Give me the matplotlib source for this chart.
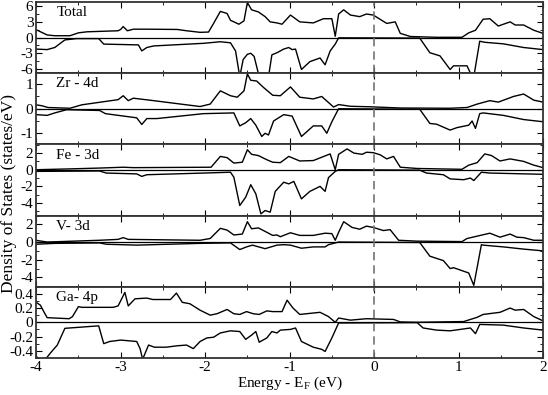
import matplotlib
matplotlib.use('Agg')
import matplotlib.pyplot as plt
from matplotlib.ticker import MultipleLocator, AutoMinorLocator, FuncFormatter

plt.rcParams['font.family'] = 'Liberation Serif'
plt.rcParams['mathtext.fontset'] = 'custom'
plt.rcParams['mathtext.rm'] = 'Liberation Serif'
plt.rcParams['axes.unicode_minus'] = False

# ---- data (energy in eV, DOS in states/eV) ----
tot_up_x = [-4, -3.87, -3.78, -3.6, -3.5, -3.4, -3.03, -3.0, -2.97, -2.92, -2.85, -2.69, -2.33, -2.22, -2.06, -1.96,
            -1.9, -1.82, -1.74, -1.7, -1.6, -1.54, -1.5, -1.45, -1.37, -1.29, -1.23, -1.15, -1.09, -0.99, -0.88,
            -0.72, -0.6, -0.5, -0.46, -0.42, -0.36, -0.28, -0.17, -0.09, -0.01, 0.15, 0.25, 0.31, 0.43, 0.74,
            1.04, 1.12, 1.2, 1.29, 1.37, 1.47, 1.61, 1.67, 1.77, 1.89, 2.0]
tot_up_y = [1.5, 0.5, 0.35, 0.35, 0.9, 1.1, 1.3, 1.55, 2.1, 1.3, 1.6, 1.6, 1.55, 1.3, 1.0, 1.05,
            2.7, 5.0, 4.6, 3.3, 2.55, 3.2, 6.7, 5.3, 4.9, 4.0, 3.0, 2.8, 2.55, 4.3, 3.0,
            2.8, 3.6, 3.6, 0.25, 4.5, 5.3, 4.3, 4.0, 4.5, 4.3, 2.7, 3.0, 0.8, 0.2, 0.05,
            0.05, 0.9, 1.4, 3.5, 3.6, 2.2, 3.0, 2.4, 2.4, 1.4, 0.8]
tot_dn_x = [-4, -3.87, -3.78, -3.66, -3.52, -3.26, -3.2, -2.79, -2.75, -2.69, -2.61, -2.02, -1.82, -1.7, -1.64,
            -1.59, -1.55, -1.5, -1.46, -1.42, -1.36, -1.25, -1.21, -1.15, -1.07, -1.01, -0.97, -0.93, -0.86,
            -0.76, -0.64, -0.58, -0.52, -0.46, -0.42, 0.54, 0.66, 0.78, 0.9, 0.94, 1.1, 1.16, 1.18, 1.25,
            1.31, 1.53, 1.77, 2.0]
tot_dn_y = [-2.2, -2.3, -1.9, -0.45, -0.2, -0.2, -1.25, -1.4, -2.55, -1.9, -1.6, -1.1, -0.8, -1.0, -2.55,
            -7.5, -4.2, -3.2, -3.0, -3.6, -7.5, -7.5, -3.3, -2.9, -2.2, -1.9, -2.3, -2.2, -6.1,
            -4.6, -3.9, -5.2, -2.55, -1.25, -0.05, -0.1, -2.9, -3.5, -6.1, -5.4, -5.4, -7.5, -7.5, -0.7,
            -0.9, -1.2, -1.9, -2.3]

zr_up_x = [-4, -3.93, -3.86, -3.6, -3.46, -3.03, -2.97, -2.91, -2.85, -2.61, -2.06, -1.94, -1.82, -1.7, -1.62,
           -1.54, -1.5, -1.46, -1.39, -1.31, -1.2, -1.11, -0.99, -0.88, -0.72, -0.62, -0.48, -0.42, -0.28,
           -0.05, 0.31, 0.9, 1.1, 1.22, 1.37, 1.47, 1.65, 1.77, 1.89, 2.0]
zr_up_y = [0.16, 0.12, 0.05, 0.02, 0.16, 0.37, 0.53, 0.33, 0.43, 0.33, 0.09, 0.19, 0.73, 0.53, 0.47,
           0.73, 1.42, 1.16, 1.13, 0.87, 0.55, 0.53, 0.89, 0.47, 0.4, 0.5, 0.07, 0.17, 0.1,
           0.08, 0.03, 0.02, 0.05, 0.19, 0.33, 0.27, 0.5, 0.6, 0.35, 0.27]
zr_dn_x = [-4, -3.87, -3.78, -3.64, -3.25, -3.18, -2.81, -2.75, -2.69, -2.57, -2.02, -1.66, -1.59, -1.52, -1.46,
           -1.4, -1.33, -1.29, -1.25, -1.19, -1.07, -0.97, -0.86, -0.72, -0.62, -0.56, -0.5, -0.42, 0.54, 0.66,
           0.74, 0.9, 0.98, 1.12, 1.16, 1.2, 1.25, 1.29, 1.53, 1.77, 2.0]
zr_dn_y = [-0.24, -0.27, -0.17, -0.04, -0.07, -0.2, -0.37, -0.64, -0.4, -0.4, -0.2, -0.17, -0.7, -0.57, -0.4,
           -0.67, -1.13, -1.0, -1.07, -0.5, -0.24, -0.3, -1.13, -0.7, -0.7, -1.0, -0.53, 0.0, -0.02, -0.6,
           -0.63, -0.87, -0.77, -0.67, -0.5, -0.8, -0.2, -0.17, -0.27, -0.44, -0.53]

fe_up_x = [-4, -3.6, -3.25, -2.97, -2.85, -1.93, -1.82, -1.74, -1.66, -1.56, -1.5, -1.45, -1.37, -1.27, -1.2,
           -1.11, -1.01, -0.88, -0.72, -0.52, -0.46, -0.42, -0.32, -0.24, -0.14, -0.09, -0.01, 0.07, 0.15, 0.23,
           0.31, 0.51, 1.04, 1.12, 1.22, 1.31, 1.39, 1.49, 1.61, 1.77, 1.89, 2.0]
fe_up_y = [0.0, 0.1, 0.2, 0.3, 0.25, 0.3, 1.6, 1.45, 0.8, 0.9, 2.4, 1.85, 1.7, 1.2, 0.9,
           0.85, 1.6, 1.05, 1.1, 1.9, 0.0, 1.85, 2.5, 2.0, 1.85, 2.1, 2.05, 1.8, 1.3, 1.6,
           0.3, 0.15, 0.05, 0.55, 0.85, 1.9, 1.7, 1.05, 1.3, 1.0, 0.55, 0.25]
fe_dn_x = [-4, -3.25, -3.17, -2.81, -2.75, -2.69, -2.02, -1.7, -1.66, -1.59, -1.52, -1.46, -1.4, -1.34, -1.29,
           -1.23, -1.17, -1.07, -1.01, -0.95, -0.86, -0.76, -0.64, -0.58, -0.54, -0.46, -0.42, 0.54, 0.62, 0.82,
           0.9, 1.06, 1.14, 1.18, 1.27, 1.37, 2.0]
fe_dn_y = [-0.2, -0.15, -0.4, -0.5, -0.8, -0.6, -0.4, -0.3, -0.9, -4.3, -3.3, -1.8, -2.9, -5.3, -4.9,
           -5.1, -2.6, -1.5, -1.7, -1.4, -3.5, -2.6, -2.0, -2.6, -0.95, -0.2, 0.0, -0.05, -0.4, -0.6,
           -1.1, -1.2, -1.0, -1.3, -0.3, -0.4, -0.55]

v_up_x = [-4, -3.87, -3.25, -3.03, -2.97, -2.91, -2.06, -1.94, -1.82, -1.74, -1.66, -1.56, -1.5, -1.45, -1.37,
          -1.27, -1.2, -1.15, -1.11, -0.99, -0.88, -0.72, -0.58, -0.5, -0.46, -0.42, -0.36, -0.26, -0.17, -0.09,
          -0.01, 0.11, 0.19, 0.29, 0.51, 1.04, 1.1, 1.37, 1.49, 1.61, 1.69, 1.77, 1.89, 2.0]
v_up_y = [0.19, 0.0, 0.2, 0.3, 0.5, 0.3, 0.2, 0.4, 1.55, 1.35, 0.8, 0.9, 2.3, 1.5, 1.6,
          1.1, 0.75, 0.8, 0.6, 1.05, 0.75, 0.75, 1.0, 0.95, 0.2, 1.1, 2.3, 1.65, 1.45, 1.8,
          1.65, 1.3, 1.4, 0.2, 0.1, 0.05, 0.4, 1.0, 0.55, 0.9, 0.55, 0.5, 0.2, 0.2]
v_dn_x = [-4, -3.78, -3.25, -3.17, -2.81, -2.06, -1.7, -1.59, -1.51, -1.44, -1.29, -1.15, -1.07, -0.99, -0.86,
          -0.72, -0.58, -0.54, -0.42, 0.54, 0.66, 0.82, 0.9, 0.94, 1.12, 1.18, 1.27, 1.29, 1.53, 1.77, 2.0]
v_dn_y = [-0.25, -0.15, -0.1, -0.25, -0.35, -0.15, -0.1, -0.85, -0.55, -0.35, -0.75, -0.35, -0.3, -0.35, -0.7,
          -0.55, -0.55, -0.3, 0.0, -0.05, -1.6, -2.1, -3.0, -2.9, -3.5, -4.9, -0.3, -0.35, -0.55, -0.8, -1.0]

ga_up_x = [-4, -3.95, -3.91, -3.87, -3.61, -3.57, -3.5, -3.46, -3.09, -3.03, -2.95, -2.91, -2.83, -2.69, -2.62,
           -2.41, -2.34, -2.27, -2.18, -2.06, -1.94, -1.86, -1.8, -1.74, -1.66, -1.59, -1.51, -1.43, -1.36, -1.27,
           -1.2, -1.09, -1.03, -0.96, -0.88, -0.64, -0.54, -0.46, -0.42, -0.28, -0.09, 0.23, 0.31, 0.51, 1.06,
           1.22, 1.29, 1.49, 1.61, 1.67, 1.77, 1.89, 2.0]
ga_up_y = [0.28, 0.24, 0.15, 0.065, 0.05, 0.08, 0.22, 0.21, 0.21, 0.23, 0.42, 0.23, 0.33, 0.34, 0.32,
           0.32, 0.41, 0.28, 0.26, 0.17, 0.1, 0.12, 0.15, 0.18, 0.12, 0.11, 0.15, 0.12, 0.11, 0.16,
           0.15, 0.15, 0.31, 0.2, 0.11, 0.14, 0.08, 0.0, 0.06, 0.03, 0.05, 0.04, 0.005, 0.0, 0.01,
           0.07, 0.11, 0.14, 0.2, 0.17, 0.18, 0.08, 0.02]
ga_dn_x = [-4, -3.96, -3.89, -3.83, -3.75, -3.66, -3.26, -3.2, -3.13, -3.0, -2.81, -2.77, -2.74, -2.67, -2.6,
           -2.46, -2.33, -2.22, -2.14, -2.06, -1.98, -1.9, -1.82, -1.7, -1.59, -1.52, -1.45, -1.4, -1.36, -1.27,
           -1.21, -1.15, -1.11, -0.99, -0.93, -0.86, -0.72, -0.62, -0.58, -0.5, -0.42, 0.51, 0.58, 0.74, 0.9,
           1.14, 1.2, 1.25, 1.53, 1.77, 2.0]
ga_dn_y = [-0.48, -0.52, -0.52, -0.43, -0.32, -0.085, -0.05, -0.3, -0.27, -0.25, -0.27, -0.37, -0.52, -0.32, -0.35,
           -0.35, -0.33, -0.32, -0.37, -0.27, -0.22, -0.21, -0.15, -0.12, -0.13, -0.24, -0.18, -0.13, -0.28, -0.22,
           -0.13, -0.15, -0.11, -0.1, -0.08, -0.27, -0.35, -0.38, -0.41, -0.22, -0.01, -0.005, -0.08, -0.11, -0.12,
           -0.08, -0.16, -0.03, -0.04, -0.08, -0.11]

labels = ['Total', 'Zr - 4d', 'Fe - 3d', 'V- 3d', 'Ga- 4p']
ylims = [(-6.8, 6.8), (-1.45, 1.45), (-5.5, 3.05), (-5.05, 3.0), (-0.5, 0.5)]
yticks = [[-6, -3, 0, 3, 6], [-1, 0, 1], [-4, -2, 0, 2], [-4, -2, 0, 2], [-0.4, -0.2, 0, 0.2, 0.4]]
curves = [(tot_up_x, tot_up_y, tot_dn_x, tot_dn_y),
          (zr_up_x, zr_up_y, zr_dn_x, zr_dn_y),
          (fe_up_x, fe_up_y, fe_dn_x, fe_dn_y),
          (v_up_x, v_up_y, v_dn_x, v_dn_y),
          (ga_up_x, ga_up_y, ga_dn_x, ga_dn_y)]

fig, axes = plt.subplots(5, 1, sharex=True, figsize=(5.48, 3.95), dpi=100,
                         gridspec_kw=dict(hspace=0))
fig.subplots_adjust(left=0.066, right=0.991, top=0.995, bottom=0.094)

for ax, (ux, uy, dx, dy), lab, yl, yt in zip(axes, curves, labels, ylims, yticks):
    ax.plot(ux, uy, color='k', lw=1.0)
    ax.plot(dx, dy, color='k', lw=1.0)
    ax.axhline(0, color='k', lw=0.9)
    ax.axvline(0, color='0.45', lw=1.2, dashes=(5, 3))
    ax.set_xlim(-4, 2)
    ax.set_ylim(*yl)
    ax.set_yticks(yt)
    ax.yaxis.set_major_formatter(FuncFormatter(lambda v, p: '%g' % v))
    ax.yaxis.set_minor_locator(AutoMinorLocator(2))
    ax.xaxis.set_major_locator(MultipleLocator(1))
    ax.xaxis.set_minor_locator(MultipleLocator(0.5))
    ax.tick_params(which='both', direction='in', top=True, right=True, labelsize=11, pad=2)
    ax.tick_params(which='major', length=4)
    ax.tick_params(which='minor', length=2.5)
    for s in ax.spines.values():
        s.set_linewidth(1.3)
        s.set_color('0.2')
    ax.text(0.04, 0.94, lab, transform=ax.transAxes, ha='left', va='top', fontsize=11)

axes[-1].set_xlabel('Energy - E$_{\\rm F}$ (eV)', fontsize=11, labelpad=1)
fig.text(0.016, 0.51, 'Density of States (states/eV)', rotation=90, ha='center', va='center', fontsize=12.5)

plt.savefig('out.png', dpi=100)
